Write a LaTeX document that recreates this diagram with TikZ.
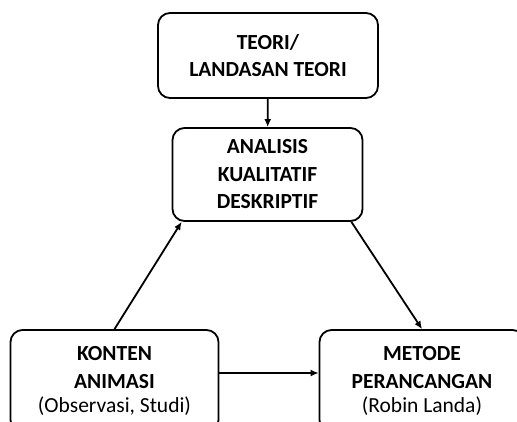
\documentclass[tikz,border=0pt]{standalone}
\usepackage{fontspec}
\setmainfont{Carlito}
\usetikzlibrary{arrows.meta}

\begin{document}
\begin{tikzpicture}[x=1pt, y=-1pt,
    box/.style={draw=black, rounded corners=12pt, line width=1.8pt, align=center, inner sep=0pt,
        font=\fontsize{21.5}{27.5}\selectfont\bfseries},
    flow/.style={-{Latex[length=8pt, width=7pt]}, line width=1.8pt}]
    \clip (0, 0) rectangle (517, 421);

    \node[box, minimum width=220pt, minimum height=85pt] (teori) at (268, 55.5) {TEORI/\\LANDASAN TEORI};
    \node[box, minimum width=190pt, minimum height=93pt] (analisis) at (267.5, 174.5) {ANALISIS\\KUALITATIF\\DESKRIPTIF};
    \node[box, minimum width=208pt, minimum height=102pt] (konten) at (114.5, 381) {KONTEN\\[0.5pt]ANIMASI\\[-4pt]{\mdseries (Observasi, Studi)}};
    \node[box, minimum width=205pt, minimum height=102pt] (metode) at (422, 381) {METODE\\[0.5pt]PERANCANGAN\\[-4pt]{\mdseries (Robin Landa)}};

    \draw[flow] (teori) -- (analisis);
    \draw[flow] (konten.north) -- ([xshift=10pt]analisis.south west);
    \draw[flow] ([xshift=-12pt]analisis.south east) -- (metode.north);
    \draw[flow] ([yshift=8pt]konten.east) -- ([yshift=8pt]metode.west);

\end{tikzpicture}
\end{document}
